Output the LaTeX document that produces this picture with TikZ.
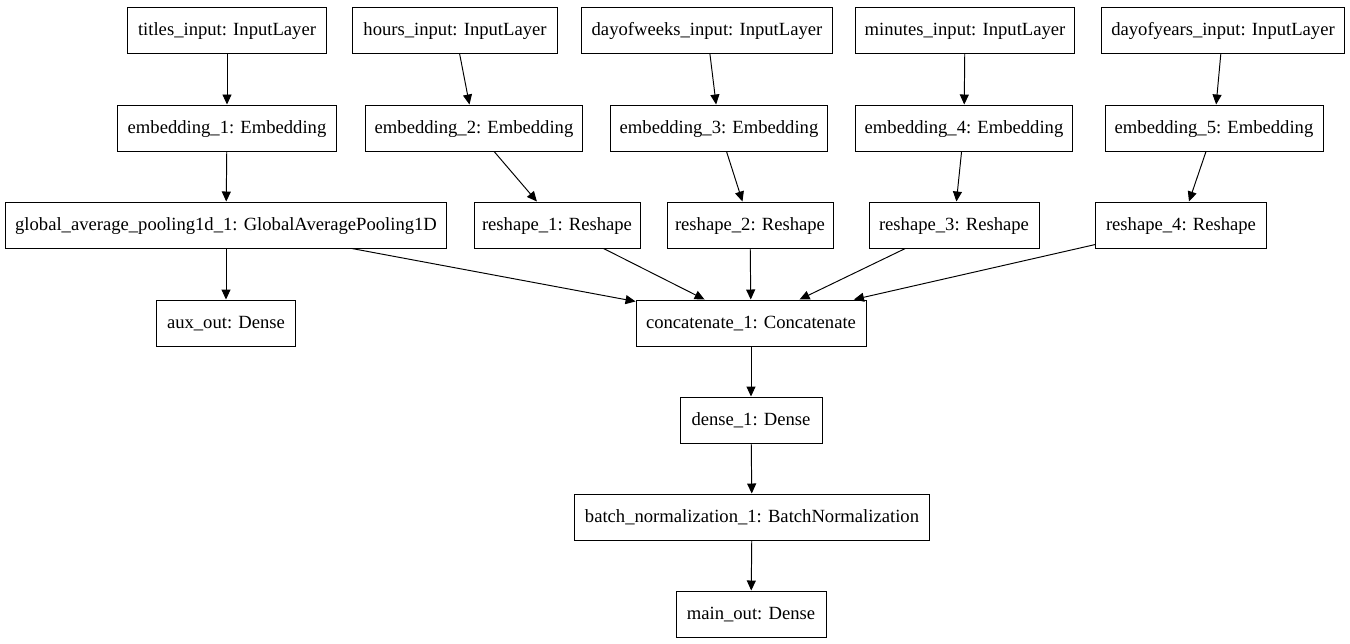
\documentclass[tikz,border=0pt]{standalone}
\usepackage{fontspec}
\setmainfont{Liberation Serif}
\usetikzlibrary{arrows.meta,positioning}

\begin{document}
\begin{tikzpicture}[x=0.02cm, y=-0.02cm,
  layer/.style = {draw, shape = rectangle, line width = 0.55pt, minimum height = 0.92cm, inner sep = 0pt, text height = 0.86em, text depth = 0.2em, font = \fontsize{10.6}{12}\selectfont},
  flow/.style = {line width = 0.55pt, -{Triangle[length = 0.2cm, width = 0.18cm]}}]
\useasboundingbox (0,0) rectangle (1350,644);
% inputs
\node[layer, minimum width = 4cm]    (titles)  at (227,30)  {titles\_input: InputLayer};
\node[layer, minimum width = 4.1cm]  (hours)   at (455,30)  {hours\_input: InputLayer};
\node[layer, minimum width = 5.04cm] (dow)     at (707,30)  {dayofweeks\_input: InputLayer};
\node[layer, minimum width = 4.38cm] (minutes) at (965,30)  {minutes\_input: InputLayer};
\node[layer, minimum width = 4.86cm] (doy)     at (1223,30) {dayofyears\_input: InputLayer};
% embeddings
\node[layer, minimum width = 4.38cm] (emb1) at (227,128)  {embedding\_1: Embedding};
\node[layer, minimum width = 4.36cm] (emb2) at (474,128)  {embedding\_2: Embedding};
\node[layer, minimum width = 4.34cm] (emb3) at (719,128)  {embedding\_3: Embedding};
\node[layer, minimum width = 4.34cm] (emb4) at (964,128)  {embedding\_4: Embedding};
\node[layer, minimum width = 4.36cm] (emb5) at (1214,128) {embedding\_5: Embedding};
% pooling and reshapes
\node[layer, minimum width = 8.84cm] (pool) at (226,225)  {global\_average\_pooling1d\_1: GlobalAveragePooling1D};
\node[layer, minimum width = 3.32cm] (rs1)  at (557,225)  {reshape\_1: Reshape};
\node[layer, minimum width = 3.32cm] (rs2)  at (750,225)  {reshape\_2: Reshape};
\node[layer, minimum width = 3.4cm]  (rs3)  at (954,225)  {reshape\_3: Reshape};
\node[layer, minimum width = 3.42cm] (rs4)  at (1181,225) {reshape\_4: Reshape};
% outputs
\node[layer, minimum width = 2.78cm] (aux)    at (226,323) {aux\_out: Dense};
\node[layer, minimum width = 4.6cm]  (concat) at (751,323) {concatenate\_1: Concatenate};
\node[layer, minimum width = 2.84cm] (dense)  at (751,420) {dense\_1: Dense};
\node[layer, minimum width = 7.12cm] (bn)     at (752,517) {batch\_normalization\_1: BatchNormalization};
\node[layer, minimum width = 3cm]    (main)   at (751,614) {main\_out: Dense};

\draw[flow] (titles)  -- (emb1);
\draw[flow] (hours)   -- (emb2);
\draw[flow] (dow)     -- (emb3);
\draw[flow] (minutes) -- (emb4);
\draw[flow] (doy)     -- (emb5);
\draw[flow] (emb1) -- (pool);
\draw[flow] (emb2) -- (rs1);
\draw[flow] (emb3) -- (rs2);
\draw[flow] (emb4) -- (rs3);
\draw[flow] (emb5) -- (rs4);
\draw[flow] (pool) -- (aux);
\foreach \src in {pool, rs1, rs2, rs3, rs4}
  \draw[flow] (\src) -- (concat);
\draw[flow] (concat) -- (dense);
\draw[flow] (dense)  -- (bn);
\draw[flow] (bn)     -- (main);
\end{tikzpicture}
\end{document}
